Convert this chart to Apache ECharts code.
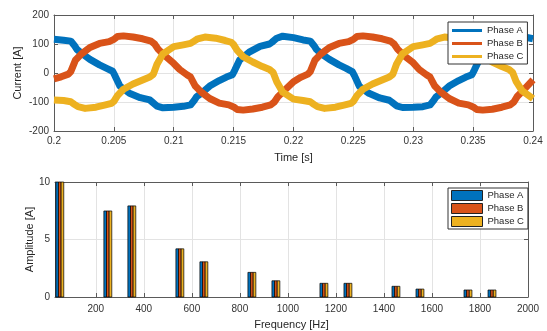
<!DOCTYPE html>
<html><head><meta charset="utf-8">
<script src="https://cdn.jsdelivr.net/npm/echarts@6/dist/echarts.min.js"></script>
<style>html,body{margin:0;padding:0;background:#fff}#c{width:547px;height:331px}</style>
</head><body><div id="c"></div>
<script>
// ---- Time-domain data: [time s, current A] ----
const phaseA = [
[0.2000,116],[0.2008,113],[0.2014,110],[0.2017,95],[0.2019,82],[0.2023,68],[0.2030,47],[0.2038,28],[0.2044,16],[0.2049,6],[0.2051,-10],[0.2055,-45],[0.2063,-70],[0.2072,-85],[0.2080,-93],[0.2082,-100],[0.2086,-114],[0.2091,-120],
[0.2100,-118],[0.2108,-115],[0.2114,-110],[0.2117,-95],[0.2119,-82],[0.2123,-70],[0.2130,-45],[0.2138,-26],[0.2144,-14],[0.2149,-6],[0.2151,10],[0.2155,45],[0.2163,72],[0.2172,92],[0.2180,100],[0.2182,106],[0.2186,120],[0.2191,127],
[0.2200,122],[0.2208,114],[0.2214,110],[0.2217,95],[0.2219,82],[0.2223,67],[0.2230,47],[0.2238,28],[0.2244,16],[0.2249,5],[0.2251,-10],[0.2255,-46],[0.2263,-70],[0.2272,-86],[0.2280,-94],[0.2282,-100],[0.2286,-113],[0.2291,-119],
[0.2300,-118],[0.2308,-116],[0.2314,-110],[0.2317,-95],[0.2319,-83],[0.2323,-70],[0.2330,-45],[0.2338,-26],[0.2344,-14],[0.2349,-6],[0.2351,10],[0.2355,45],[0.2363,72],[0.2372,92],[0.2380,100],[0.2382,106],[0.2386,120],[0.2391,126],[0.2400,118]
];
const phaseB = [
[0.2000,-20],[0.2006,-13],[0.2012,-4],[0.2014,5],[0.2018,45],[0.2023,66],[0.2030,88],[0.2038,102],[0.2046,108],[0.2050,116],[0.2053,126],[0.2058,128],[0.2066,124],[0.2074,118],[0.2081,110],[0.2084,100],[0.2087,82],[0.2093,58],
[0.2100,33],[0.2105,12],[0.2111,-6],[0.2114,-14],[0.2118,-45],[0.2123,-66],[0.2130,-88],[0.2138,-104],[0.2146,-110],[0.2150,-117],[0.2153,-126],[0.2158,-128],[0.2166,-124],[0.2174,-118],[0.2181,-110],[0.2184,-100],[0.2187,-82],[0.2193,-58],
[0.2200,-30],[0.2206,-15],[0.2212,-4],[0.2214,5],[0.2218,45],[0.2223,66],[0.2230,88],[0.2238,102],[0.2246,108],[0.2250,116],[0.2253,126],[0.2258,128],[0.2266,124],[0.2274,118],[0.2281,110],[0.2284,100],[0.2287,82],[0.2293,58],
[0.2300,35],[0.2305,12],[0.2311,-6],[0.2314,-14],[0.2318,-45],[0.2323,-66],[0.2330,-88],[0.2338,-104],[0.2346,-110],[0.2350,-117],[0.2353,-126],[0.2358,-128],[0.2366,-125],[0.2374,-118],[0.2381,-110],[0.2384,-100],[0.2387,-80],[0.2393,-55],[0.2400,-24]
];
const phaseC = [
[0.2000,-93],[0.2008,-95],[0.2014,-99],[0.2017,-108],[0.2020,-116],[0.2026,-122],[0.2035,-118],[0.2043,-110],[0.2048,-105],[0.2050,-98],[0.2053,-78],[0.2058,-56],[0.2066,-38],[0.2074,-24],[0.2080,-14],[0.2083,-4],[0.2086,30],[0.2091,66],
[0.2100,91],[0.2108,97],[0.2114,102],[0.2117,110],[0.2120,118],[0.2126,124],[0.2135,120],[0.2143,112],[0.2148,106],[0.2150,98],[0.2153,78],[0.2158,56],[0.2166,38],[0.2174,22],[0.2180,12],[0.2183,2],[0.2186,-30],[0.2191,-66],
[0.2200,-90],[0.2208,-95],[0.2214,-99],[0.2217,-108],[0.2220,-116],[0.2226,-122],[0.2235,-118],[0.2243,-110],[0.2248,-105],[0.2250,-98],[0.2253,-78],[0.2258,-56],[0.2266,-38],[0.2274,-24],[0.2280,-14],[0.2283,-4],[0.2286,30],[0.2291,66],
[0.2300,91],[0.2308,97],[0.2314,102],[0.2317,110],[0.2320,118],[0.2326,124],[0.2335,120],[0.2343,112],[0.2348,106],[0.2350,98],[0.2353,78],[0.2358,56],[0.2366,38],[0.2374,22],[0.2380,12],[0.2383,2],[0.2386,-30],[0.2391,-62],[0.2400,-88]
];

// ---- Spectrum data ----
const harmonicFreqs = [50,250,350,550,650,850,950,1150,1250,1450,1550,1750,1850];
const ampA = [115,7.48,7.92,4.19,3.06,2.14,1.41,1.19,1.19,0.93,0.69,0.61,0.61];
const ampB = [115,7.48,7.92,4.19,3.06,2.14,1.41,1.19,1.19,0.93,0.69,0.61,0.61];
const ampC = [115,7.48,7.92,4.19,3.06,2.14,1.41,1.19,1.19,0.93,0.69,0.61,0.61];
const freqTicks = [200,400,600,800,1000,1200,1400,1600,1800,2000];
const phaseNames = ['Phase A','Phase B','Phase C'];
const colors = ['#0072BD','#D95319','#EDB120'];

const txt = '#262626', axC = '#5a5a5a', gridC = '#e3e3e3';
const FONT = 'Liberation Sans, Arial, Helvetica, sans-serif';

function boxAxis(extra){
  return Object.assign({
    type:'value', axisLine:{show:true,onZero:false,lineStyle:{color:axC,width:1}},
    axisTick:{show:true,inside:true,length:4,lineStyle:{color:axC}},
    axisLabel:{show:false}, splitLine:{show:false}
  }, extra);
}
function mainAxis(extra, labelExtra, nameExtra){
  return Object.assign({
    type:'value', axisLine:{show:true,onZero:false,lineStyle:{color:axC,width:1}},
    axisTick:{show:true,inside:true,length:4,lineStyle:{color:axC}},
    axisLabel:Object.assign({color:'#333',fontSize:10,fontFamily:FONT,margin:5,formatter:v=>String(+v.toFixed(6))},labelExtra||{}),
    splitLine:{show:true,lineStyle:{color:gridC,width:1}},
    nameLocation:'middle', nameMoveOverlap:false,
    nameTextStyle:Object.assign({color:txt,fontSize:11,fontFamily:FONT},nameExtra||{})
  }, extra);
}

const barW = 11; // Hz per bar
function makeRender(k){
  return function(params, api){
    const f = api.value(0), v = api.value(1);
    const off = (k-1)*barW;
    const p0 = api.coord([f+off-barW/2, 0]);
    const p1 = api.coord([f+off+barW/2, v]);
    const rect = {x:p0[0], y:p1[1], width:p1[0]-p0[0], height:p0[1]-p1[1]};
    const cs = params.coordSys;
    const clipped = echarts.graphic.clipRectByRect(rect, {x:cs.x,y:cs.y,width:cs.width,height:cs.height});
    if(!clipped) return;
    return {type:'rect', shape:clipped, style:{fill:colors[k], stroke:'#000', lineWidth:0.7}};
  };
}
const ampSets = [ampA, ampB, ampC];

const chart = echarts.init(document.getElementById('c'), null, {renderer:'canvas'});
chart.setOption({
  animation:false,
  backgroundColor:'#fff',
  grid:[
    {left:54, top:15, width:479, height:116},
    {left:55, top:182, width:473, height:115}
  ],
  xAxis:[
    mainAxis({gridIndex:0,min:0.2,max:0.24,interval:0.005,name:'Time [s]',nameGap:21}),
    boxAxis({gridIndex:0,position:'top',min:0.2,max:0.24,interval:0.005}),
    mainAxis({gridIndex:1,min:30,max:2000,name:'Frequency [Hz]',nameGap:22,
      axisTick:{show:true,inside:true,length:4,lineStyle:{color:axC},customValues:freqTicks}},
      {customValues:freqTicks, margin:7}),
    boxAxis({gridIndex:1,position:'top',min:30,max:2000,
      axisTick:{show:true,inside:true,length:4,lineStyle:{color:axC},customValues:freqTicks}})
  ],
  yAxis:[
    mainAxis({gridIndex:0,min:-200,max:200,interval:100,name:'Current [A]',nameGap:31}),
    boxAxis({gridIndex:0,position:'right',min:-200,max:200,interval:100}),
    mainAxis({gridIndex:1,min:0,max:10,interval:5,name:'Amplitude [A]',nameGap:20}),
    boxAxis({gridIndex:1,position:'right',min:0,max:10,interval:5})
  ],
  legend:[
    {data:phaseNames, orient:'vertical', left:448, top:22, icon:'rect', itemWidth:30, itemHeight:3, itemGap:0,
     padding:[2,4,1,4], backgroundColor:'#fff', borderColor:'#333', borderWidth:1, borderRadius:0,
     textStyle:{color:txt,fontSize:9.5,fontFamily:FONT,lineHeight:13}, selectedMode:false},
    {data:phaseNames.map(n=>'bar:'+n), orient:'vertical', left:448, top:188, icon:'rect', itemWidth:31, itemHeight:10, itemGap:0,
     padding:[1,4,1,3], backgroundColor:'#fff', borderColor:'#333', borderWidth:1, borderRadius:0,
     itemStyle:{borderColor:'#222',borderWidth:1},
     formatter:n=>n.replace('bar:',''),
     textStyle:{color:txt,fontSize:9.5,fontFamily:FONT,lineHeight:13}, selectedMode:false}
  ],
  series:[
    ...[phaseA,phaseB,phaseC].map((d,k)=>({
      type:'line', name:phaseNames[k], xAxisIndex:0, yAxisIndex:0, data:d,
      symbol:'none', showSymbol:false, clip:true,
      lineStyle:{color:colors[k], width:7, join:'round'}, itemStyle:{color:colors[k]}
    })),
    ...[0,1,2].map(k=>({
      type:'custom', name:'bar:'+phaseNames[k], xAxisIndex:2, yAxisIndex:2,
      itemStyle:{color:colors[k]},
      encode:{x:0,y:1},
      data:harmonicFreqs.map((f,i)=>[f, ampSets[k][i]]),
      renderItem:makeRender(k)
    }))
  ]
});
</script></body></html>
